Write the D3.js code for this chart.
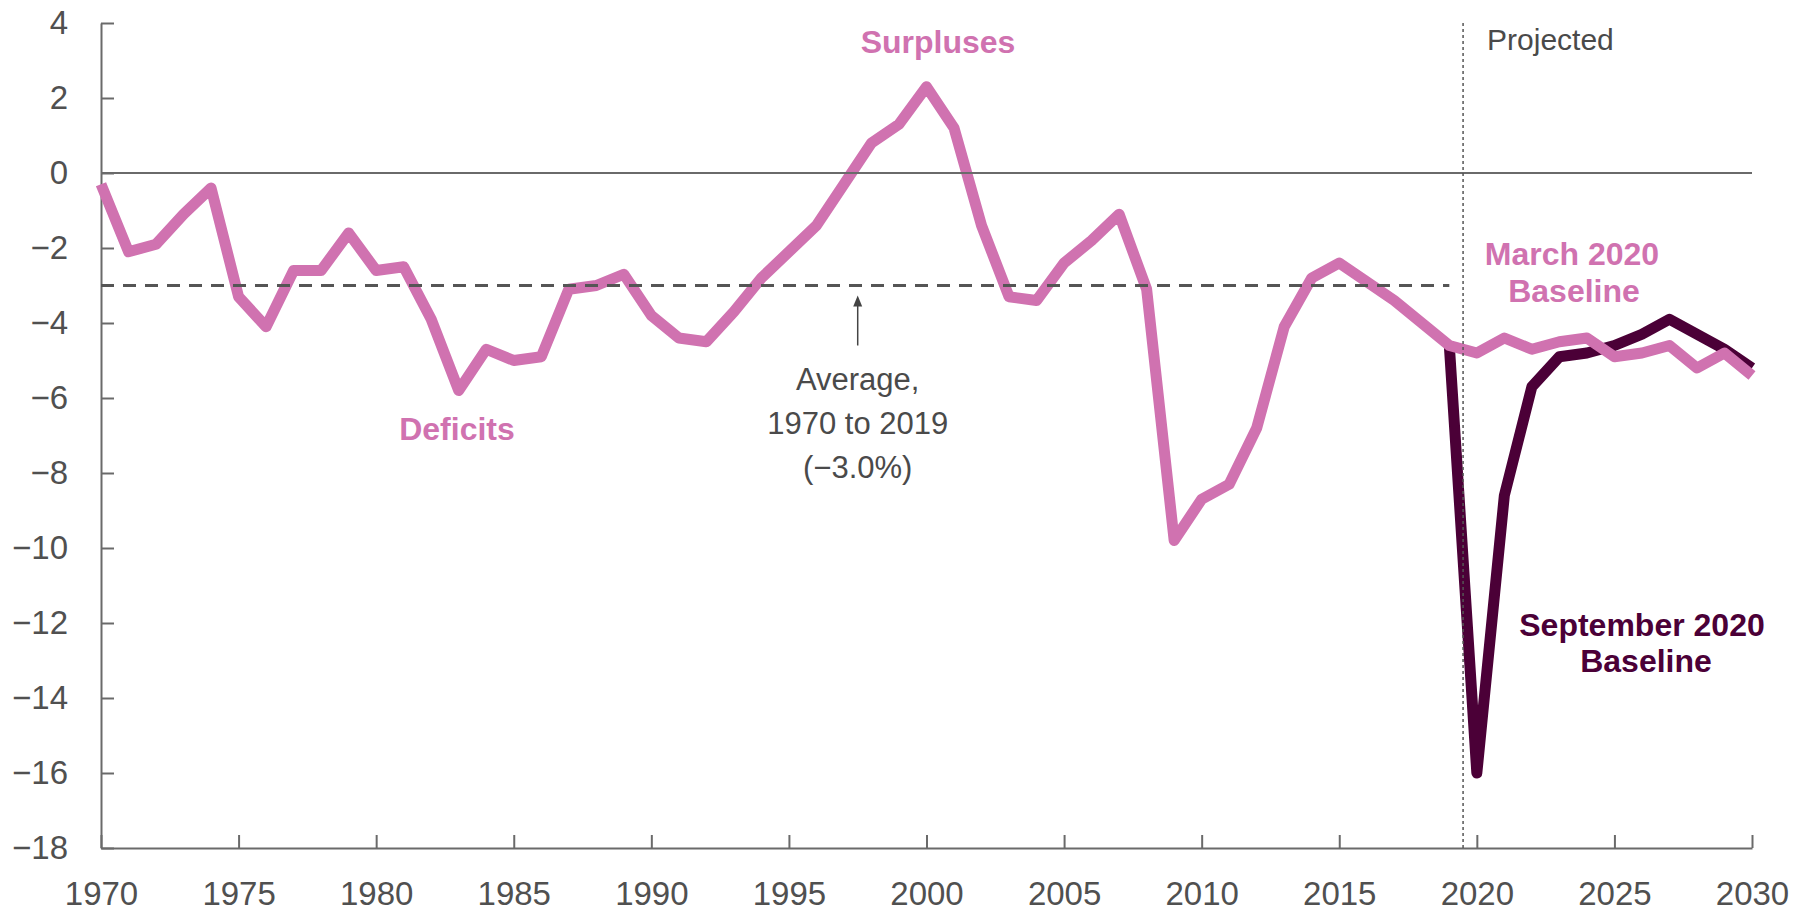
<!DOCTYPE html>
<html>
<head>
<meta charset="utf-8">
<script src="https://cdn.jsdelivr.net/npm/d3@7"></script>
<style>
  body { margin: 0; background: #fff; }
  svg { display: block; font-family: "Liberation Sans", Arial, sans-serif; }
  .axis path, .axis line { stroke: #6a6a6a; stroke-width: 2; }
  .axis text { fill: #505050; font-size: 33px; }
  .note { fill: #4a4a4a; font-size: 31px; }
  .lab { font-weight: bold; font-size: 32px; }
</style>
</head>
<body>
<div id="plot"></div>
<script>
// deficit (-) or surplus (+) as a percentage of GDP
const histYears = d3.range(1970, 2020)
const histDeficit = [
  -0.3, -2.1, -1.9, -1.1, -0.4, -3.3, -4.1, -2.6, -2.6, -1.6,
  -2.6, -2.5, -3.9, -5.8, -4.7, -5.0, -4.9, -3.1, -3.0, -2.7,
  -3.8, -4.4, -4.5, -3.7, -2.8, -2.1, -1.4, -0.3, 0.8, 1.3,
  2.3, 1.2, -1.4, -3.3, -3.4, -2.4, -1.8, -1.1, -3.1, -9.8,
  -8.7, -8.3, -6.8, -4.1, -2.8, -2.4, -2.9, -3.4, -4.0, -4.6]

const projYears = d3.range(2019, 2031)
const marchBaseline = [-4.6, -4.8, -4.4, -4.7, -4.5, -4.4, -4.9, -4.8, -4.6, -5.2, -4.8, -5.4]
const septBaseline = [-4.6, -16.0, -8.6, -5.7, -4.9, -4.8, -4.6, -4.3, -3.9, -4.3, -4.7, -5.2]

const average = -3.0
const xTicks = [1970, 1975, 1980, 1985, 1990, 1995, 2000, 2005, 2010, 2015, 2020, 2025, 2030]
const yTicks = [4, 2, 0, -2, -4, -6, -8, -10, -12, -14, -16, -18]

const w = 1805, h = 914,
    margin = {top: 23, right: 53, bottom: 66, left: 101},
    pink = "#d072b0",
    plum = "#4b0037"

const x = d3.scaleLinear()
  .domain([1970, 2030])
  .range([margin.left, w - margin.right])
const y = d3.scaleLinear()
  .domain([4, -18])
  .range([margin.top, h - margin.bottom])

const svg = d3.select("#plot").append("svg")
  .attr("width", w)
  .attr("height", h)

// axes, ticks pointing inward
svg.append("g")
  .attr("class", "axis")
  .attr("transform", `translate(0, ${y(-18)})`)
  .call(d3.axisBottom(x)
    .tickValues(xTicks)
    .tickFormat(d3.format("d"))
    .tickSize(-13)
    .tickSizeOuter(0)
    .tickPadding(34))

svg.append("g")
  .attr("class", "axis")
  .attr("transform", `translate(${x(1970)}, 0)`)
  .call(d3.axisLeft(y)
    .tickValues(yTicks)
    .tickSize(-13)
    .tickSizeOuter(0)
    .tickPadding(33))

svg.selectAll(".axis .tick text").attr("stroke", "none")

const line = d3.line()
  .x(d => x(d[0]))
  .y(d => y(d[1]))

// September baseline underneath, then the historical + March line
svg.append("path")
  .datum(projYears.map((yr, i) => [yr, septBaseline[i]]))
  .attr("fill", "none")
  .attr("stroke", plum)
  .attr("stroke-width", 11)
  .attr("stroke-linejoin", "round")
  .attr("d", line)

const pinkData = histYears.map((yr, i) => [yr, histDeficit[i]])
  .concat(projYears.slice(1).map((yr, i) => [yr, marchBaseline[i + 1]]))

svg.append("path")
  .datum(pinkData)
  .attr("fill", "none")
  .attr("stroke", pink)
  .attr("stroke-width", 11)
  .attr("stroke-linejoin", "round")
  .attr("d", line)

// zero line
svg.append("line")
  .attr("x1", x(1970)).attr("x2", x(2030))
  .attr("y1", y(0)).attr("y2", y(0))
  .attr("stroke", "#6a6a6a")
  .attr("stroke-width", 2)

// average 1970-2019
svg.append("line")
  .attr("x1", x(1970)).attr("x2", x(2019))
  .attr("y1", y(average)).attr("y2", y(average))
  .attr("stroke", "#555")
  .attr("stroke-width", 3)
  .attr("stroke-dasharray", "13,9")

// projected divider
svg.append("line")
  .attr("x1", x(2019.5)).attr("x2", x(2019.5))
  .attr("y1", y(4)).attr("y2", y(-18))
  .attr("stroke", "#555")
  .attr("stroke-width", 1.5)
  .attr("stroke-dasharray", "3,3")

svg.append("text")
  .attr("class", "note")
  .attr("x", x(2019.5) + 24)
  .attr("y", 50)
  .style("font-size", "30px")
  .text("Projected")

// arrow to the average line
const ax = x(1997.5)
svg.append("line")
  .attr("x1", ax).attr("x2", ax)
  .attr("y1", y(average) + 60).attr("y2", y(average) + 18)
  .attr("stroke", "#444")
  .attr("stroke-width", 1.5)
svg.append("path")
  .attr("d", `M${ax},${y(average) + 10} l-4.5,11 l9,0 z`)
  .attr("fill", "#444")

const avgText = svg.append("text")
  .attr("class", "note")
  .attr("text-anchor", "middle")
avgText.append("tspan").attr("x", ax).attr("y", 390).text("Average,")
avgText.append("tspan").attr("x", ax).attr("y", 434).text("1970 to 2019")
avgText.append("tspan").attr("x", ax).attr("y", 478).text("(\u22123.0%)")

// series labels
svg.append("text")
  .attr("class", "lab")
  .attr("text-anchor", "middle")
  .attr("x", 938).attr("y", 53)
  .attr("fill", pink)
  .text("Surpluses")

svg.append("text")
  .attr("class", "lab")
  .attr("text-anchor", "middle")
  .attr("x", 457).attr("y", 440)
  .attr("fill", pink)
  .text("Deficits")

const march = svg.append("text")
  .attr("class", "lab")
  .attr("text-anchor", "middle")
  .attr("fill", pink)
march.append("tspan").attr("x", 1572).attr("y", 265).text("March 2020")
march.append("tspan").attr("x", 1574).attr("y", 302).text("Baseline")

const sept = svg.append("text")
  .attr("class", "lab")
  .attr("text-anchor", "middle")
  .attr("fill", plum)
sept.append("tspan").attr("x", 1642).attr("y", 636).text("September 2020")
sept.append("tspan").attr("x", 1646).attr("y", 672).text("Baseline")
</script>
</body>
</html>
